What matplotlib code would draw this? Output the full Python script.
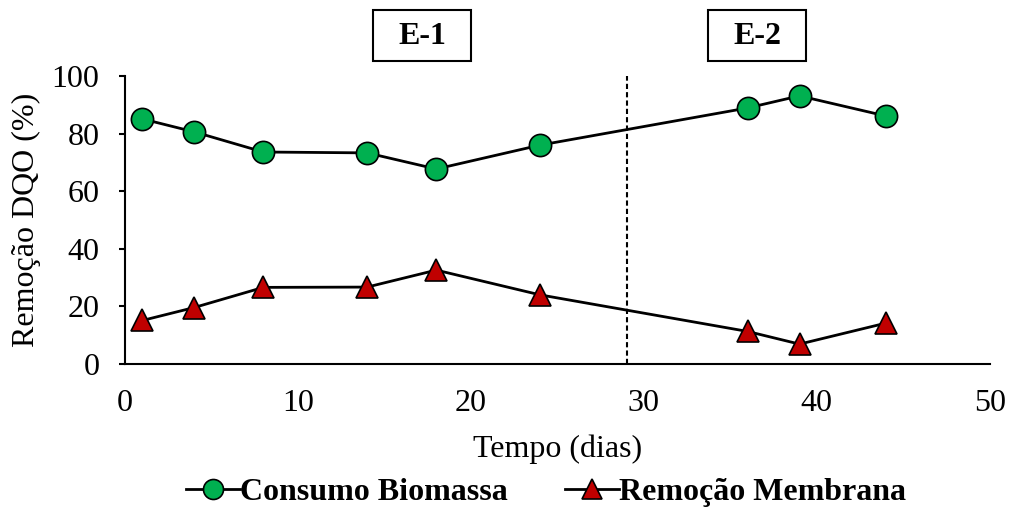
import matplotlib
matplotlib.use("Agg")
import matplotlib.pyplot as plt
from matplotlib.patches import Rectangle

# data
dias = [1, 4, 8, 14, 18, 24, 36, 39, 44]
consumo_biomassa = [85.1, 80.6, 73.6, 73.3, 67.7, 76.0, 88.9, 93.1, 86.1]
remocao_membrana = [15.1, 19.6, 26.6, 26.7, 32.6, 24.0, 11.3, 6.9, 14.2]
x_ticks = [0, 10, 20, 30, 40, 50]
y_ticks = [0, 20, 40, 60, 80, 100]
dia_troca = 29
etapas = ["E-1", "E-2"]

plt.rcParams["font.family"] = ["Liberation Serif", "DejaVu Serif"]

fig = plt.figure(figsize=(10.11, 5.11), dpi=100)
ax = fig.add_axes([0.1236, 0.2877, 0.8554, 0.5636])

ax.plot(dias, consumo_biomassa, color="black", lw=2.0, marker="o", ms=16,
        mfc="#00B050", mec="black", mew=1.2, label="Consumo Biomassa", zorder=3)
ax.plot(dias, remocao_membrana, color="black", lw=2.0, marker="^", ms=16,
        mfc="#C00000", mec="black", mew=1.2, label="Remoção Membrana", zorder=3)

ax.axvline(dia_troca, color="black", lw=1.5, linestyle=(0, (2.5, 1.5)), zorder=2)

ax.set_xlim(0, 50)
ax.set_ylim(0, 100)
ax.set_xticks(x_ticks)
ax.set_yticks(y_ticks)
ax.tick_params(axis="x", length=0, pad=18, labelsize=23)
ax.tick_params(axis="y", length=4.3, width=1.5, direction="out", pad=14, labelsize=23)
for s in ["top", "right"]:
    ax.spines[s].set_visible(False)
for s in ["left", "bottom"]:
    ax.spines[s].set_linewidth(1.5)

ax.set_xlabel("Tempo (dias)", fontsize=23, labelpad=12)
ax.set_ylabel("Remoção DQO (%)", fontsize=23, labelpad=8)

# stage labels in boxes above the plot
for cx, txt in zip([422, 757], etapas):
    w, h = 98, 51
    fig.patches.append(Rectangle(((cx - w / 2) / 1011, 1 - (36 + h / 2) / 511),
                                 w / 1011, h / 511, transform=fig.transFigure,
                                 fill=False, ec="black", lw=1.5))
    fig.text(cx / 1011, 1 - 37 / 511, txt, ha="center", va="center",
             fontsize=23, fontweight="bold")

fig.legend(loc="center", bbox_to_anchor=(0.54, 0.037), ncol=2, frameon=False,
           handlelength=1.7, handletextpad=0.0, columnspacing=1.8,
           prop={"size": 23, "weight": "bold"}, markerscale=0.9)

fig.savefig("out.png", dpi=100)
